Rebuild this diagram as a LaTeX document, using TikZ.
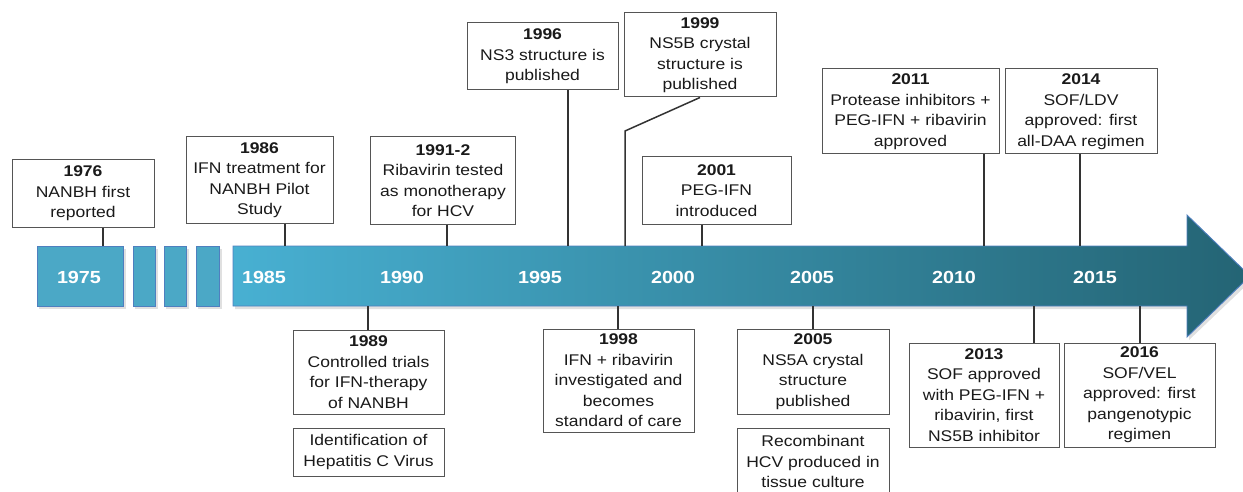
\documentclass[tikz,border=0pt]{standalone}
\usepackage{fontspec}
\setmainfont{Liberation Sans}[FakeStretch=1.13]
\definecolor{boxline}{HTML}{555555}
\definecolor{txt}{HTML}{1A1A1A}
\definecolor{connc}{HTML}{333333}
\definecolor{bandline}{HTML}{4F7FBF}
\definecolor{segc}{HTML}{4BA8C6}
\definecolor{bandL}{HTML}{48B0D2}
\definecolor{bandM}{HTML}{358BA6}
\definecolor{bandR}{HTML}{246474}
\begin{document}
\begin{tikzpicture}[x=1pt,y=-1pt,
  box/.style={draw=boxline, line width=1pt, fill=white, inner sep=0pt, align=center, text=txt,
              font=\fontsize{15.5}{20.5}\selectfont},
  yr/.style={text=white, inner sep=0pt, font=\fontsize{17.5}{20}\selectfont\bfseries},
  conn/.style={draw=connc, line width=1.5pt},
  seg/.style={draw=bandline, line width=0.9pt, fill=segc},
  shad/.style={fill=black, opacity=0.12}]
\useasboundingbox (0,0) rectangle (1243,492);
\begin{scope}
\clip (0,0) rectangle (1243,492);
% shadows
\fill[shad] (39,249) rectangle (126,309);
\fill[shad] (135,249) rectangle (158,309);
\fill[shad] (166,249) rectangle (189,309);
\fill[shad] (198,249) rectangle (222,309);
\fill[shad] (235,249) -- (1189,249) -- (1189,218) -- (1253,279) -- (1189,340) -- (1189,309) -- (235,309) -- cycle;
% band pieces
\path[seg] (37,246) rectangle (123,306);
\path[seg] (133,246) rectangle (155,306);
\path[seg] (164,246) rectangle (186,306);
\path[seg] (196,246) rectangle (219,306);
\path[draw=bandline, line width=0.9pt, left color=bandL, middle color=bandM, right color=bandR]
  (233,246) -- (1187,246) -- (1187,215) -- (1250,276) -- (1187,337) -- (1187,306) -- (233,306) -- cycle;
% year labels
\node[yr] (y1975) at (79,277) {1975};
\node[yr] (y1985) at (264,277) {1985};
\node[yr] (y1990) at (402,277) {1990};
\node[yr] (y1995) at (540,277) {1995};
\node[yr] (y2000) at (673,277) {2000};
\node[yr] (y2005) at (812,277) {2005};
\node[yr] (y2010) at (954,277) {2010};
\node[yr] (y2015) at (1095,277) {2015};
% band attachment points
\coordinate (t1976) at (103,246);
\coordinate (t1986) at (285,246);
\coordinate (t1991) at (447,246);
\coordinate (t1996) at (568,246);
\coordinate (t1999) at (625,246);
\coordinate (k1999) at (625,131);
\coordinate (t2001) at (702,246);
\coordinate (t2011) at (984,246);
\coordinate (t2014) at (1080,246);
\coordinate (u1989) at (368,306);
\coordinate (u1998) at (618,306);
\coordinate (u2005) at (813,306);
\coordinate (u2013) at (1034,306);
\coordinate (u2016) at (1140,306);
% top boxes
\node[box, minimum width=142, minimum height=67] (b1976) at (83,193.5) {\textbf{1976}\\NANBH first\\reported};
\node[box, minimum width=147, minimum height=86] (b1986) at (259.5,180) {\textbf{1986}\\IFN treatment for\\NANBH Pilot\\Study};
\node[box, minimum width=145, minimum height=87] (b1991) at (443,180.5) {\textbf{1991-2}\\Ribavirin tested\\as monotherapy\\for HCV};
\node[box, minimum width=151, minimum height=67] (b1996) at (542.5,56.5) {\textbf{1996}\\NS3 structure is\\published};
\node[box, minimum width=152, minimum height=84] (b1999) at (700,55) {\textbf{1999}\\NS5B crystal\\structure is\\published};
\node[box, minimum width=149, minimum height=67] (b2001) at (716.5,190.5) {\textbf{2001}\\PEG-IFN\\introduced};
\node[box, minimum width=177, minimum height=85] (b2011) at (910.5,111.5) {\textbf{2011}\\Protease inhibitors +\\PEG-IFN + ribavirin\\approved};
\node[box, minimum width=152, minimum height=85] (b2014) at (1081,111.5) {\textbf{2014}\\SOF/LDV\\approved: first\\all-DAA regimen};
% bottom boxes
\node[box, minimum width=151, minimum height=84] (b1989) at (368.5,372) {\textbf{1989}\\Controlled trials\\for IFN-therapy\\of NANBH};
\node[box, minimum width=151, minimum height=48] (bhcv) at (368.5,452) {Identification of\\Hepatitis C Virus};
\node[box, minimum width=151, minimum height=103] (b1998) at (618.5,380.5) {\textbf{1998}\\IFN + ribavirin\\investigated and\\becomes\\standard of care};
\node[box, minimum width=152, minimum height=85] (b2005) at (813,371.5) {\textbf{2005}\\NS5A crystal\\structure\\published};
\node[box, minimum width=152, minimum height=67] (brec) at (813,461.5) {Recombinant\\HCV produced in\\tissue culture};
\node[box, minimum width=150, minimum height=104] (b2013) at (984,395) {\textbf{2013}\\SOF approved\\with PEG-IFN +\\ribavirin, first\\NS5B inhibitor};
\node[box, minimum width=151, minimum height=104] (b2016) at (1139.5,395) {\textbf{2016}\\SOF/VEL\\approved: first\\pangenotypic\\regimen};
% connectors
\draw[conn] (b1976.south -| t1976) -- (t1976);
\draw[conn] (b1986.south -| t1986) -- (t1986);
\draw[conn] (b1991.south -| t1991) -- (t1991);
\draw[conn] (b1996.south -| t1996) -- (t1996);
\draw[conn] (b1999.south) -- (k1999) -- (t1999);
\draw[conn] (b2001.south -| t2001) -- (t2001);
\draw[conn] (b2011.south -| t2011) -- (t2011);
\draw[conn] (b2014.south -| t2014) -- (t2014);
\draw[conn] (u1989) -- (b1989.north -| u1989);
\draw[conn] (u1998) -- (b1998.north -| u1998);
\draw[conn] (u2005) -- (b2005.north -| u2005);
\draw[conn] (u2013) -- (b2013.north -| u2013);
\draw[conn] (u2016) -- (b2016.north -| u2016);
\end{scope}
\end{tikzpicture}
\end{document}
